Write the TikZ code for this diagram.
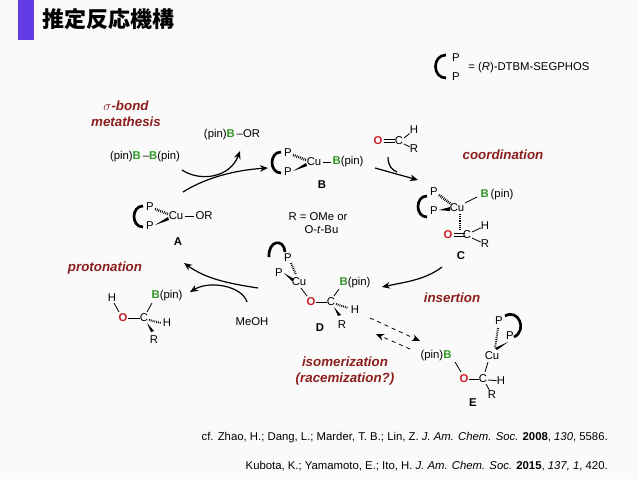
\documentclass[tikz,border=0pt]{standalone}
\usepackage{fontspec}
\setmainfont{Liberation Sans}
\newfontfamily\cjk{Noto Sans CJK JP}
\usetikzlibrary{arrows.meta}
\definecolor{lab}{RGB}{140,30,30}
\definecolor{gB}{RGB}{50,150,40}
\definecolor{rO}{RGB}{200,30,40}
\definecolor{bar}{RGB}{100,60,230}
\begin{document}
\begin{tikzpicture}[x=0.75pt,y=-0.75pt,
  t/.style={font=\fontsize{8.5}{9}\selectfont,inner sep=0pt},
  lb/.style={font=\fontsize{8.5}{9}\selectfont\bfseries,inner sep=0pt},
  capt/.style={font=\fontsize{10}{12}\selectfont\bfseries\itshape,text=lab,align=center,inner sep=0pt},
  bk/.style={line width=2pt},
  bd/.style={line width=0.6pt},
  ar/.style={line width=0.9pt,-{Stealth[length=6pt,width=5pt]}},
  hash/.style={dash pattern=on 0.6pt off 0.8pt,line width=2pt}]
\useasboundingbox (0,0) rectangle (638,479);
\fill[gray!4] (0,0) rectangle (638,479);
% title
\fill[bar] (18,0) rectangle (34,40);
\node[anchor=west,inner sep=0pt,font=\cjk\fontsize{16.5}{18}\selectfont\bfseries] (title) at (42,19) {推定反応機構};
% legend
\draw[bk] (446,55) .. controls (432,55) and (432,78) .. (446,78);
\node[t] (lp1) at (456,58) {P};
\node[t] (lp2) at (456,77) {P};
\node[t,anchor=west] (leg) at (468,68) {= (\textit{R})-DTBM-SEGPHOS};
% captions
\node[capt] (c1) at (126,114) {$\sigma$-bond\\metathesis};
\node[capt] (c2) at (503,155) {coordination};
\node[capt] (c3) at (105,268) {protonation};
\node[capt] (c4) at (452,298) {insertion};
\node[capt] (c5) at (345,371) {isomerization\\(racemization?)};
% reagents
\node[t] (bor) at (232,135) {(pin)\textcolor{gB}{\textbf{B}}\,–OR};
\node[t] (b2) at (145,157) {(pin)\textcolor{gB}{\textbf{B}}\,–\textcolor{gB}{\textbf{B}}(pin)};
\node[t,align=left] (rr) at (318,223) {R = OMe or\\[1pt]\hspace*{12pt}O-\textit{t}-Bu};
% aldehyde
\node[t] (aO) at (378,141) {\textcolor{rO}{\textbf{O}}};
\node[t] (aC) at (399,141) {C};
\node[t] (aH) at (414,130) {H};
\node[t] (aR) at (414,149) {R};
\draw[bd] ([yshift=-1.2]aO.east)++(1,0) -- ++(11,0); \draw[bd] ([yshift=1.2]aO.east)++(1,0) -- ++(11,0);
\draw[bd] (aC) ++(5,-3) -- (aH); \draw[bd] (aC) ++(5,3) -- (aR);
% A
\draw[bk] (143,206) .. controls (131,206) and (131,227) .. (143,227);
\node[t] (AP1) at (150,207) {P};
\node[t] (AP2) at (150,226) {P};
\node[t] (ACu) at (176,216) {Cu};
\node[t] (AOR) at (204,216) {OR};
\node[lb] (Al) at (178,242) {A};
\draw[hash] (155,209) -- (168,214);
\fill (155,225) -- (168,217) -- (169,220) -- cycle;
\draw[bd] ([xshift=1]ACu.east) -- ([xshift=-1]AOR.west);
% B
\draw[bk] (281,152) .. controls (269,152) and (269,173) .. (281,173);
\node[t] (BP1) at (288,153) {P};
\node[t] (BP2) at (288,172) {P};
\node[t] (BCu) at (314,162) {Cu};
\node[t] (BB) at (348,162) {\textcolor{gB}{\textbf{B}}(pin)};
\node[lb] (Bl) at (322,185) {B};
\draw[hash] (293,155) -- (306,160);
\fill (293,171) -- (306,163) -- (307,166) -- cycle;
\draw[bd] ([xshift=1]BCu.east) -- ([xshift=-1]BB.west);
% C
\draw[bk] (427,196) .. controls (415,196) and (415,217) .. (427,217);
\node[t] (CP1) at (434,192) {P};
\node[t] (CP2) at (434,211) {P};
\node[t] (CCu) at (457,208) {Cu};
\node[t] (CB) at (497,195) {\textcolor{gB}{\textbf{B}}\,(pin)};
\node[t] (CO) at (448,235) {\textcolor{rO}{\textbf{O}}};
\node[t] (CC) at (467,235) {C};
\node[t] (CH) at (485,226) {H};
\node[t] (CR) at (485,244) {R};
\node[lb] (Cl) at (461,256) {C};
\draw[hash] (439,195) -- (451,204);
\fill (439,210) -- (450,207) -- (450,211) -- cycle;
\draw[bd] (465,203) -- (477,197);
\draw[hash,line width=1.5pt] (460,214) -- (460,229);
\draw[bd] ([yshift=-1.2]CO.east)++(1,0) -- ++(11,0); \draw[bd] ([yshift=1.2]CO.east)++(1,0) -- ++(11,0);
\draw[bd] (CC) ++(5,-3) -- (CH); \draw[bd] (CC) ++(5,3) -- (CR);
% D
\draw[bk] (269,257) .. controls (268,240) and (284,238) .. (285,252);
\node[t] (DP1) at (288,258) {P};
\node[t] (DP2) at (279,273) {P};
\node[t] (DCu) at (299,282) {Cu};
\node[t] (DO) at (311,302) {\textcolor{rO}{\textbf{O}}};
\node[t] (DC) at (331,302) {C};
\node[t] (DB) at (355,283) {\textcolor{gB}{\textbf{B}}(pin)};
\node[t] (DH) at (355,310) {H};
\node[t] (DR) at (342,325) {R};
\node[lb] (Dl) at (320,328) {D};
\draw[hash,line width=1.5pt] (291,263) -- (296,275);
\fill (284,273) -- (294,279) -- (292,281) -- cycle;
\draw[bd] (301,288) -- (307,296);
\draw[bd] (DO.east) -- (DC.west);
\draw[bd] (334,296) -- (339,289);
\draw[hash,line width=1.5pt] (336,304) -- (348,308);
\fill (334,307) -- (338,316) -- (341,315) -- cycle;
% E
\draw[bk] (505,316) .. controls (518,308) and (528,330) .. (514,337);
\node[t] (EP1) at (499,321) {P};
\node[t] (EP2) at (510,336) {P};
\node[t] (ECu) at (492,356) {Cu};
\node[t] (EB) at (436,356) {(pin)\textcolor{gB}{\textbf{B}}};
\node[t] (EO) at (464,379) {\textcolor{rO}{\textbf{O}}};
\node[t] (EC) at (483,379) {C};
\node[t] (EH) at (501,381) {H};
\node[t] (ER) at (492,395) {R};
\node[lb] (El) at (473,403) {E};
\draw[hash,line width=1.5pt] (498,328) -- (495,348);
\fill (508,342) -- (497,350) -- (495,348) -- cycle;
\draw[bd] (455,362) -- (461,372);
\draw[bd] (EO.east) -- (EC.west);
\draw[bd] (488,362) -- (485,372);
\draw[bd] (EC) ++(5,1) -- (EH);
\draw[bd] (EC) ++(3,5) -- (ER);
% product
\node[t] (PH) at (112,298) {H};
\node[t] (PO) at (123,318) {\textcolor{rO}{\textbf{O}}};
\node[t] (PC) at (144,318) {C};
\node[t] (PB) at (167,296) {\textcolor{gB}{\textbf{B}}(pin)};
\node[t] (PH2) at (167,323) {H};
\node[t] (PR) at (154,340) {R};
\node[t] (meoh) at (252,322) {MeOH};
\draw[bd] (114,303) -- (119,312);
\draw[bd] (PO.east) -- (PC.west);
\draw[bd] (147,312) -- (152,303);
\draw[hash,line width=1.5pt] (149,320) -- (161,323);
\fill (147,323) -- (151,332) -- (154,331) -- cycle;
% arrows
\coordinate (m1) at (183,192); \coordinate (m2) at (268,168);
\draw[ar] (m1) .. controls (205,178) and (235,170) .. (m2);
\coordinate (m3) at (182,170); \coordinate (m4) at (240,151);
\draw[ar] (m3) .. controls (200,182) and (230,178) .. (m4);
\coordinate (b1) at (375,168); \coordinate (b2e) at (418,180);
\draw[ar] (b1) -- (b2e);
\draw[line width=0.9pt] (388,157) .. controls (388,166) and (392,170) .. (397,172);
\coordinate (c1s) at (442,267); \coordinate (c1e) at (382,287);
\draw[ar] (c1s) .. controls (425,280) and (405,282) .. (c1e);
\coordinate (d1) at (258,288); \coordinate (d2) at (184,263);
\draw[ar] (d1) .. controls (225,283) and (205,278) .. (d2);
\coordinate (w1) at (247,302); \coordinate (w2) at (190,292);
\draw[ar] (w1) .. controls (242,286) and (210,280) .. (w2);
\coordinate (i1) at (370,318); \coordinate (i2) at (420,341);
\draw[ar,dashed,line width=0.6pt] (i1) -- (i2);
\coordinate (i3) at (410,349); \coordinate (i4) at (376,334);
\draw[ar,dashed,line width=0.6pt] (i3) -- (i4);
% refs
\node[anchor=east,font=\fontsize{8.5}{10}\selectfont,inner sep=0pt] (ref1) at (608,438) {cf. Zhao, H.; Dang, L.; Marder, T. B.; Lin, Z. \textit{J. Am. Chem. Soc.} \textbf{2008}, \textit{130}, 5586.};
\node[anchor=east,font=\fontsize{8.5}{10}\selectfont,inner sep=0pt] (ref2) at (608,466) {Kubota, K.; Yamamoto, E.; Ito, H. \textit{J. Am. Chem. Soc.} \textbf{2015}, \textit{137, 1}, 420.};
\end{tikzpicture}
\end{document}
